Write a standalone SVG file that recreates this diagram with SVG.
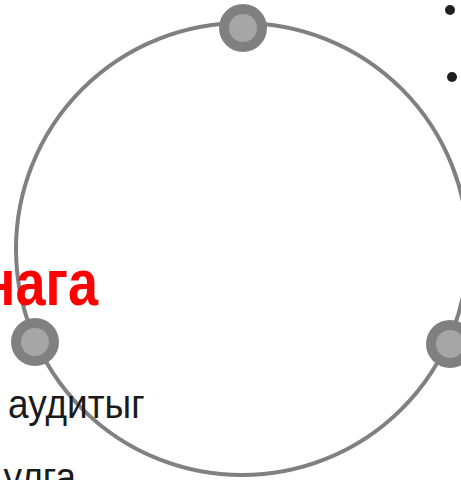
<svg xmlns="http://www.w3.org/2000/svg" width="461" height="480" viewBox="0 0 461 480">
<style>
.ring{fill:none;stroke:#808080;stroke-width:4}
.outer{fill:#808080}
.inner{fill:#a6a6a6}
.bul{fill:#1f1f1f}
.red{font-family:"Liberation Sans",Arial,sans-serif;font-weight:bold;fill:#ff0000}
.blk{font-family:"Liberation Sans",Arial,sans-serif;fill:#1a1a1a}
</style>
<rect width="461" height="480" fill="#ffffff"/>
<g id="connectors">
<circle class="ring" cx="242" cy="249" r="226"/>
</g>
<g id="node-top"><circle class="outer" cx="243" cy="28" r="24"/><circle class="inner" cx="243" cy="28" r="14"/></g>
<g id="node-left"><circle class="outer" cx="35" cy="342" r="24"/><circle class="inner" cx="35" cy="342" r="14"/></g>
<g id="node-right"><circle class="outer" cx="450" cy="344" r="24"/><circle class="inner" cx="450" cy="344" r="14"/></g>
<g id="bullets"><circle class="bul" cx="450" cy="10" r="5"/><circle class="bul" cx="452" cy="77" r="5"/></g>
<g id="labels">
<text class="red" text-anchor="end" font-size="54" transform="translate(98,305) scale(1,1.2)">нага</text>
<text class="blk" font-size="37" transform="translate(8,418) scale(1,1.08)">аудитыг</text>
<text class="blk" text-anchor="end" font-size="37" transform="translate(76,491) scale(1,1.08)">улга</text>
</g>
</svg>
